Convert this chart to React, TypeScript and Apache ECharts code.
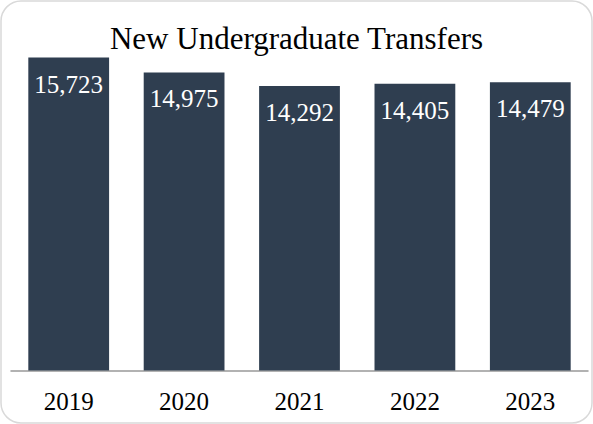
import React, { useEffect, useRef } from "react";
import * as echarts from "echarts";

const categories = ["2019", "2020", "2021", "2022", "2023"];
const transfers = [15723, 14975, 14292, 14405, 14479];
const titleText = "New Undergraduate Transfers";

const FONT = "'Liberation Serif', 'DejaVu Serif', serif";

export default function App() {
  const ref = useRef<HTMLDivElement>(null);
  useEffect(() => {
    document.body.style.margin = "0";
    const chart = echarts.init(ref.current!, null, { renderer: "svg" });
    chart.setOption({
      animation: false,
      backgroundColor: "#ffffff",
      title: {
        text: titleText,
        left: "center",
        top: 23,
        padding: 0,
        textStyle: { fontFamily: FONT, fontSize: 31, fontWeight: "normal", color: "#000000" },
      },
      graphic: [
        {
          type: "rect",
          shape: { x: 1, y: 1, width: 591, height: 422, r: 20 },
          style: { fill: "none", stroke: "#d9d9d9", lineWidth: 1.5 },
          z: 100,
          silent: true,
        },
      ],
      grid: { left: 11, right: 5, top: 52, bottom: 53.5 },
      xAxis: {
        type: "category",
        data: categories,
        axisLine: { show: true, lineStyle: { color: "#999999", width: 1.5 } },
        axisTick: { show: false },
        axisLabel: { fontFamily: FONT, fontSize: 25, color: "#000000", margin: 18 },
      },
      yAxis: {
        type: "value",
        min: 0,
        max: 16000,
        show: false,
        splitLine: { show: false },
      },
      series: [
        {
          type: "bar",
          data: transfers,
          barCategoryGap: "30%",
          itemStyle: { color: "#2f3e50" },
          label: {
            show: true,
            position: "insideTop",
            distance: 14,
            fontFamily: FONT,
            fontSize: 25,
            color: "#ffffff",
            formatter: (p: any) => Number(p.value).toLocaleString("en-US"),
          },
        },
      ],
    });
    return () => chart.dispose();
  }, []);
  return <div ref={ref} style={{ width: 593, height: 424 }} />;
}
